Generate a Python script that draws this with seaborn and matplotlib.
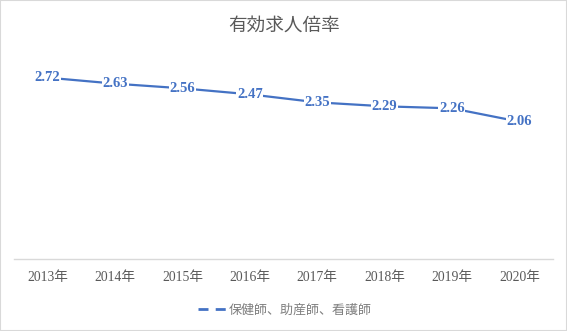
import matplotlib
matplotlib.use("Agg")
import matplotlib.pyplot as plt
from matplotlib.lines import Line2D
from matplotlib.patches import Rectangle
import pandas as pd
import seaborn as sns

years = ["2013年", "2014年", "2015年", "2016年", "2017年", "2018年", "2019年", "2020年"]
ratios = [2.72, 2.63, 2.56, 2.47, 2.35, 2.29, 2.26, 2.06]
series_name = "保健師、助産師、看護師"
title = "有効求人倍率"

BLUE = "#4472C4"
GRAY = "#595959"
SERIF = ["Liberation Serif", "Noto Sans CJK JP", "DejaVu Sans"]
SANS = ["Noto Sans CJK JP", "DejaVu Sans"]

sns.set_style("white")
plt.rcParams["font.family"] = SANS

df = pd.DataFrame({"year": years, "ratio": ratios})

fig = plt.figure(figsize=(5.67, 3.31), dpi=100)
ax = fig.add_axes([14 / 567, 1 - 259 / 331, (553 - 14) / 567, (259 - 59) / 331])

sns.lineplot(data=df, x="year", y="ratio", ax=ax, color=BLUE, linewidth=1.6,
             sort=False, legend=False)

for i, v in enumerate(ratios):
    ax.text(i, v, f"{v:.2f}", ha="center", va="center", color=BLUE,
            fontsize=10.5, fontweight="bold", family=SERIF,
            bbox=dict(facecolor="white", edgecolor="none", pad=0.5))

ax.set_xlim(-0.5, len(years) - 0.5)
ax.set_ylim(0, 3)
ax.set_xlabel("")
ax.set_ylabel("")
ax.set_yticks([])
ax.set_xticks(range(len(years)))
ax.set_xticklabels(years, family=SERIF, fontsize=9.8, color=GRAY)
ax.tick_params(axis="x", length=0, pad=9)
for side in ("top", "left", "right"):
    ax.spines[side].set_visible(False)
ax.spines["bottom"].set_color("#D9D9D9")
ax.spines["bottom"].set_linewidth(1.0)

fig.text(284 / 567, 1 - 26 / 331, title, ha="center", va="center",
         fontsize=13.4, color=GRAY, family=SANS)

# two-dash legend key
handle = Line2D([], [], color=BLUE, linewidth=2.0, linestyle=(0, (3.6, 2.6)))
fig.legend([handle], [series_name], loc="center",
           bbox_to_anchor=(285 / 567, 1 - 310 / 331), frameon=False,
           fontsize=9.4, labelcolor="#7F7F7F", handlelength=2.1, handletextpad=0.2,
           borderpad=0, borderaxespad=0)

fig.patches.append(Rectangle((0, 0), 1, 1, transform=fig.transFigure,
                             fill=False, edgecolor="#D9D9D9", linewidth=1.5))

fig.savefig("out.png", dpi=100)
